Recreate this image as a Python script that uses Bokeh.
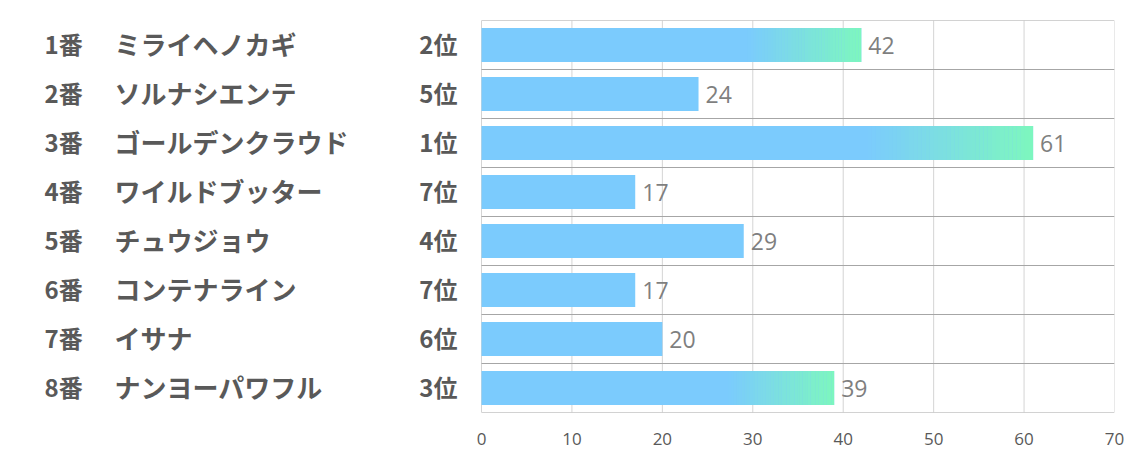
from bokeh.plotting import figure
from bokeh.models import Range1d, FixedTicker
from bokeh.core.properties import value
from bokeh.embed import file_html
from bokeh.resources import INLINE

numbers = ["1番", "2番", "3番", "4番", "5番", "6番", "7番", "8番"]
names = ["ミライヘノカギ", "ソルナシエンテ", "ゴールデンクラウド", "ワイルドブッター",
         "チュウジョウ", "コンテナライン", "イサナ", "ナンヨーパワフル"]
ranks = ["2位", "5位", "1位", "7位", "4位", "7位", "6位", "3位"]
values = [42, 24, 61, 17, 29, 17, 20, 39]
x_ticks = [0, 10, 20, 30, 40, 50, 60, 70]

BLUE = (123, 203, 253)
GREEN = (125, 247, 190)
TEXT = "#595959"
JP = "Noto Sans CJK JP"

W, H = 1134, 453
ZERO_PX = 481          # pixel where value 0 sits
RIGHT_PX = 1114        # pixel where value 70 sits
XMAX = 70
scale = (RIGHT_PX - ZERO_PX) / XMAX
xmin = -ZERO_PX / scale

def px(x):
    return (x - ZERO_PX) / scale

p = figure(width=W, height=H, output_backend="svg", toolbar_location=None,
           x_range=Range1d(xmin, XMAX), y_range=Range1d(len(values) + 0.5, 0.5),
           min_border_left=0, min_border_right=W - RIGHT_PX, min_border_top=20, min_border_bottom=41)
p.outline_line_color = None
p.background_fill_color = "white"
p.border_fill_color = "white"
p.ygrid.visible = False
p.xgrid.visible = False

rows = list(range(1, len(values) + 1))

# vertical grid lines (0..70)
p.segment(x0=x_ticks, x1=x_ticks, y0=[0.5] * len(x_ticks), y1=[len(values) + 0.5] * len(x_ticks),
          line_color="#d4d4d4", line_width=1)

# horizontal row separators
seps = [r - 0.5 for r in rows] + [len(values) + 0.5]
p.segment(x0=[0] * len(seps), x1=[XMAX] * len(seps), y0=seps, y1=seps,
          line_color="#a6a6a6", line_width=1)

p.hbar(y=rows, left=0, right=values, height=0.69,
       fill_color="#%02x%02x%02x" % BLUE, line_color=None)

# gradient overlay for top-3 bars
n = 40
gy, gl, gr, gc = [], [], [], []
for r, v, rk in zip(rows, values, ranks):
    if int(rk.replace("位", "")) <= 3:
        start = 0.70 * v
        step = (v - start) / n
        for k in range(n):
            t = (k + 0.5) / n
            c = tuple(int(round(BLUE[i] + (GREEN[i] - BLUE[i]) * t)) for i in range(3))
            gy.append(r)
            gl.append(start + k * step)
            gr.append(min(v, start + (k + 1) * step + 0.02))
            gc.append("#%02x%02x%02x" % c)
p.hbar(y=gy, left=gl, right=gr, height=0.69, fill_color=gc, line_color=None)

# value labels
p.text(x=values, y=rows, text=[str(v) for v in values], x_offset=7,
       text_baseline="middle", text_align="left", text_font_size="23px",
       text_color="#7f7f7f", text_font=value("Open Sans"))

# left labels
p.text(x=[px(44)] * len(rows), y=rows, text=numbers, text_baseline="middle", text_align="left",
       y_offset=-2, text_font=value(JP), text_font_style="bold", text_font_size="24px",
       text_color=TEXT)
p.text(x=[px(114)] * len(rows), y=rows, text=names, text_baseline="middle", text_align="left",
       y_offset=-2, text_font=value(JP), text_font_style="bold", text_font_size="26px",
       text_color=TEXT)
p.text(x=[px(457)] * len(rows), y=rows, text=ranks, text_baseline="middle", text_align="right",
       y_offset=-2, text_font=value(JP), text_font_style="bold", text_font_size="24px",
       text_color=TEXT)

p.yaxis.visible = False
p.xaxis.ticker = FixedTicker(ticks=x_ticks)
p.xaxis.axis_line_color = None
p.xaxis.major_tick_line_color = None
p.xaxis.minor_tick_line_color = None
p.xaxis.major_label_text_font_size = "17px"
p.xaxis.major_label_text_color = TEXT
p.xaxis.major_label_text_font = "Open Sans"
p.xaxis.major_label_standoff = 14

open("out.html", "w").write(file_html(p, INLINE))
